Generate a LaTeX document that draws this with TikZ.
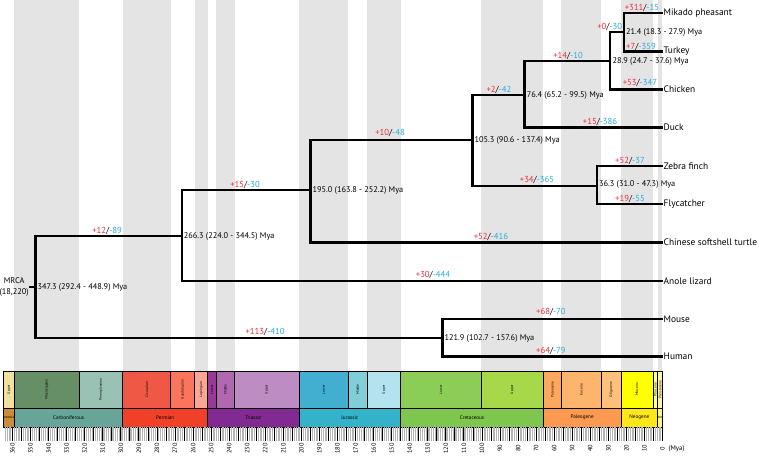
\documentclass[tikz,border=0pt]{standalone}
\usepackage{fontspec}
\setmainfont{PT Sans}
\usetikzlibrary{positioning}

% colours
\definecolor{stripe}{HTML}{E4E4E4}
\definecolor{gain}{HTML}{EE2D3A}
\definecolor{loss}{HTML}{29ABE2}
\definecolor{minortick}{HTML}{B4B4B4}
% ICS chart colours
\definecolor{devo}{HTML}{CB8C37}\definecolor{updev}{HTML}{F1E19D}
\definecolor{carb}{HTML}{67A599}\definecolor{miss}{HTML}{678F66}\definecolor{penn}{HTML}{99C2B5}
\definecolor{perm}{HTML}{F04028}\definecolor{cisu}{HTML}{EF5845}\definecolor{guad}{HTML}{FB745C}\definecolor{lopi}{HTML}{FBA794}
\definecolor{tria}{HTML}{812B92}\definecolor{lotr}{HTML}{983999}\definecolor{mitr}{HTML}{B168B1}\definecolor{uptr}{HTML}{BD8CC3}
\definecolor{jura}{HTML}{34B2C9}\definecolor{loju}{HTML}{42AED0}\definecolor{miju}{HTML}{80CFD8}\definecolor{upju}{HTML}{B3E3EE}
\definecolor{cret}{HTML}{7FC64E}\definecolor{locr}{HTML}{8CCD57}\definecolor{upcr}{HTML}{A6D84A}
\definecolor{pgen}{HTML}{FD9A52}\definecolor{pale}{HTML}{FDA75F}\definecolor{eoce}{HTML}{FDB46C}\definecolor{olig}{HTML}{FEC07A}
\definecolor{ngen}{HTML}{FFE619}\definecolor{mioc}{HTML}{FFFF00}\definecolor{plio}{HTML}{FFFF99}
\definecolor{quat}{HTML}{F9F97F}\definecolor{plei}{HTML}{FFF2AE}

\newcommand{\gl}[2]{{\color{gain}#1}/{\color{loss}#2}}

\tikzset{
  branch/.style={line width=2.3pt, line join=miter},
  leaf/.style={anchor=west, inner sep=1pt, font=\fontsize{9.4}{12}\selectfont},
  agelabel/.style={anchor=west, inner sep=2pt, font=\fontsize{8.3}{10}\selectfont},
  change/.style={inner sep=0pt, font=\fontsize{8.7}{10}\selectfont},
  unitbox/.style={draw=black, line width=0.7pt},
  epochtext/.style={rotate=90, inner sep=0pt, font=\fontsize{3.6}{4}\selectfont},
  periodtext/.style={inner sep=0pt, font=\fontsize{5.2}{6}\selectfont},
  ticklabel/.style={rotate=90, inner sep=0pt, font=\fontsize{6.3}{7}\selectfont},
}

\begin{document}
% x runs in Myr (0 Mya at the tips), y in pt downwards
\begin{tikzpicture}[x=-1.8056pt, y=-1pt]

\path[use as bounding box, fill=white] (366.92,0) rectangle (-53.44,458);

% --- grey epoch stripes ---
\foreach \s/\e in {358.9/323.2, 298.9/272.3, 259.1/251.9, 247.2/237, 201.3/174.1,
                   163.5/145, 100.5/66, 56/33.9, 23.03/5.333, 2.58/0.0117}
  \fill[stripe] (\s,0) rectangle (\e,371);

% --- Tree ---

% internal nodes (age, height of incoming branch)
\coordinate (root) at (347.3,287);
\coordinate (amni) at (266.3,236);
\coordinate (saur) at (195.0,190);
\coordinate (aves) at (105.3,140);
\coordinate (gall) at (76.4,95);
\coordinate (phas) at (28.9,61);
\coordinate (meleag) at (21.4,32);
\coordinate (pass) at (36.3,186);
\coordinate (mamm) at (121.9,338);

% tips
\node[leaf] (mikado) at (0,13) {Mikado pheasant};
\node[leaf] (turkey) at (0,51.5) {Turkey};
\node[leaf] (chicken) at (0,89.5) {Chicken};
\node[leaf] (duck) at (0,127.5) {Duck};
\node[leaf] (zebra) at (0,166) {Zebra finch};
\node[leaf] (flyc) at (0,204) {Flycatcher};
\node[leaf] (turtle) at (0,242.5) {Chinese softshell turtle};
\node[leaf] (anole) at (0,281) {Anole lizard};
\node[leaf] (mouse) at (0,319) {Mouse};
\node[leaf] (human) at (0,356.5) {Human};

% branches
\draw[branch] (root) |- (amni);
\draw[branch] (root) |- (mamm);
\draw[branch] (amni) |- (saur);
\draw[branch] (amni) |- (anole.west);
\draw[branch] (saur) |- (aves);
\draw[branch] (saur) |- (turtle.west);
\draw[branch] (aves) |- (gall);
\draw[branch] (aves) |- (pass);
\draw[branch] (gall) |- (phas);
\draw[branch] (gall) |- (duck.west);
\draw[branch] (phas) |- (meleag);
\draw[branch] (phas) |- (chicken.west);
\draw[branch] (meleag) |- (mikado.west);
\draw[branch] (meleag) |- (turkey.west);
\draw[branch] (pass) |- (zebra.west);
\draw[branch] (pass) |- (flyc.west);
\draw[branch] (mamm) |- (mouse.west);
\draw[branch] (mamm) |- (human.west);

% root stub and label
\draw[branch] (root) -- ++(-6pt,0) coordinate (stub);
\node[anchor=east, align=center, inner sep=0.5pt, font=\fontsize{8.3}{11}\selectfont] (mrca) at (stub) {MRCA\\(18,220)};

% divergence times
\node[agelabel] (t_root) at (root) {347.3 (292.4 - 448.9) Mya};
\node[agelabel] (t_amni) at (amni) {266.3 (224.0 - 344.5) Mya};
\node[agelabel] (t_saur) at (saur) {195.0 (163.8 - 252.2) Mya};
\node[agelabel] (t_aves) at (aves) {105.3 (90.6 - 137.4) Mya};
\node[agelabel] (t_gall) at (gall) {76.4 (65.2 - 99.5) Mya};
\node[agelabel] (t_phas) at (phas) {28.9 (24.7 - 37.6) Mya};
\node[agelabel] (t_meleag) at (meleag) {21.4 (18.3 - 27.9) Mya};
\node[agelabel] (t_pass) at ([yshift=2pt]pass) {36.3 (31.0 - 47.3) Mya};
\node[agelabel] (t_mamm) at (mamm) {121.9 (102.7 - 157.6) Mya};

% gene gains / losses
\node[change] (c_amni) at (307.6,231) {\gl{+12}{-89}};
\node[change] (c_mamm) at (220.1,332) {\gl{+113}{-410}};
\node[change] (c_saur) at (231.2,185) {\gl{+15}{-30}};
\node[change] (c_anole) at (127.1,275) {\gl{+30}{-444}};
\node[change] (c_aves) at (150.9,133) {\gl{+10}{-48}};
\node[change] (c_turtle) at (95.0,237) {\gl{+52}{-416}};
\node[change] (c_gall) at (90.6,90) {\gl{+2}{-42}};
\node[change] (c_pass) at (69.5,180) {\gl{+34}{-365}};
\node[change] (c_phas) at (52.3,56) {\gl{+14}{-10}};
\node[change] (c_duck) at (34.6,122) {\gl{+15}{-386}};
\node[change, anchor=east] (c_meleag) at ([xshift=-1.5pt]meleag |- 0,27) {\gl{+0}{-30}};
\node[change] (c_mikado) at (11.4,8) {\gl{+311}{-15}};
\node[change] (c_turkey) at (11.9,47) {\gl{+7}{-359}};
\node[change] (c_chicken) at (12.5,83) {\gl{+53}{-347}};
\node[change] (c_zebra) at (18.0,161) {\gl{+52}{-37}};
\node[change] (c_flyc) at (18.0,199) {\gl{+19}{-55}};
\node[change] (c_mouse) at (61.8,312) {\gl{+68}{-70}};
\node[change] (c_human) at (61.8,351) {\gl{+64}{-79}};

% --- Geological time scale ---

% epochs
\foreach \s/\e/\c/\t [count=\i] in {
    365/358.9/updev/Upper, 358.9/323.2/miss/Mississippian, 323.2/298.9/penn/Pennsylvanian,
    298.9/272.3/cisu/Cisuralian, 272.3/259.1/guad/Guadalupian, 259.1/251.9/lopi/Lopingian,
    251.9/247.2/lotr/Lower, 247.2/237/mitr/Middle, 237/201.3/uptr/Upper,
    201.3/174.1/loju/Lower, 174.1/163.5/miju/Middle, 163.5/145/upju/Upper,
    145/100.5/locr/Lower, 100.5/66/upcr/Upper,
    66/56/pale/Paleocene, 56/33.9/eoce/Eocene, 33.9/23.03/olig/Oligocene,
    23.03/5.333/mioc/Miocene, 5.333/2.58/plio/Pliocene, 2.58/0/plei/Pleistocene}
{
  \filldraw[unitbox, fill=\c] (\s,371) rectangle (\e,408);
  \node[epochtext] (ep\i) at ({(\s+\e)/2},389.5) {\t};
}

% periods
\foreach \s/\e/\c/\t [count=\i] in {
    358.9/298.9/carb/Carboniferous, 298.9/251.9/perm/Permian, 251.9/201.3/tria/Triassic,
    201.3/145/jura/Jurassic, 145/66/cret/Cretaceous, 66/23.03/pgen/Paleogene,
    23.03/2.58/ngen/Neogene}
{
  \filldraw[unitbox, fill=\c] (\s,408) rectangle (\e,427);
  \node[periodtext] (pe\i) at ({(\s+\e)/2},417.5) {\t};
}
\filldraw[unitbox, fill=devo] (365,408) rectangle (358.9,427);
\begin{scope}
  \clip (365,408) rectangle (358.9,427);
  \node[periodtext, font=\fontsize{3.6}{4}\selectfont] (pe_devo) at (361.95,417.5) {Devonian};
\end{scope}
\filldraw[unitbox, fill=quat] (2.58,408) rectangle (0,427);
\begin{scope}
  \clip (2.58,408) rectangle (0,427);
  \node[periodtext, font=\fontsize{3.6}{4}\selectfont] (pe_quat) at (1.29,417.5) {Quaternary};
\end{scope}

% ticks
\foreach \a in {0,...,364}
  \draw[minortick, line width=0.5pt] (\a,427) -- (\a,441);
\foreach \a in {0,5,...,360}
  \draw[black, line width=0.8pt] (\a,427) -- (\a,441);
\foreach \a in {0,10,...,360}
  \node[ticklabel] (tk\a) at (\a,448.5) {\a};
\node[anchor=west, inner sep=0pt, font=\fontsize{6.8}{8}\selectfont] (mya) at ([xshift=6pt]tk0.center) {(Mya)};

\end{tikzpicture}
\end{document}
